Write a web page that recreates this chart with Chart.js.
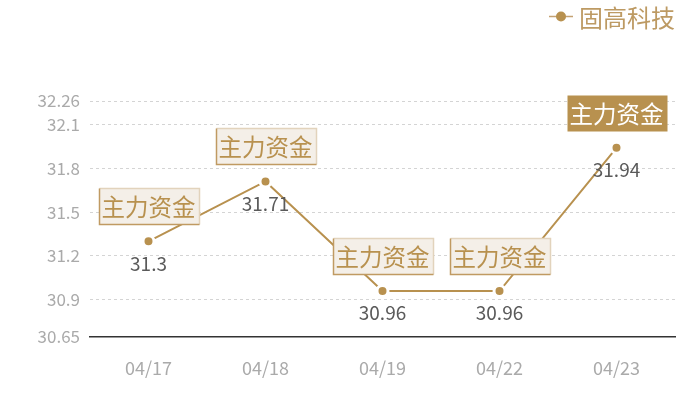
<!DOCTYPE html>
<html>
<head>
<meta charset="utf-8">
<script src="https://cdn.jsdelivr.net/npm/chart.js@4/dist/chart.umd.min.js"></script>
<style>
  html,body{margin:0;padding:0;background:#fff;}
  #wrap{width:700px;height:400px;}
</style>
</head>
<body>
<div id="wrap"><canvas id="price-chart"></canvas></div>
<script>
/* ── data ── */
var dates = ['04/17','04/18','04/19','04/22','04/23'];
var prices = [31.3, 31.71, 30.96, 30.96, 31.94];
var yTicks = [30.65, 30.9, 31.2, 31.5, 31.8, 32.1, 32.26];
var seriesName = '固高科技';
var flagText = '主力资金';
var flagActive = [false, false, false, false, true];

var GOLD = '#b8914f';
var FONT = '"Noto Sans CJK SC","Noto Sans",sans-serif';

// price labels under points + 主力资金 flags above them
var markersPlugin = {
  id:'markers',
  afterDatasetsDraw:function(chart){
    var ctx = chart.ctx;
    var meta = chart.getDatasetMeta(0);
    ctx.save();
    meta.data.forEach(function(pt, i){
      ctx.font = '19px ' + FONT;
      ctx.fillStyle = '#5a5a5a';
      ctx.textAlign = 'center';
      ctx.textBaseline = 'middle';
      ctx.fillText(String(prices[i]), pt.x, pt.y + 22);

      var w = 100, h = 36;
      var bx = Math.round(pt.x - w/2) + 0.5, by = Math.round(pt.y - 17 - h) + 0.5;
      if(flagActive[i]){
        ctx.fillStyle = GOLD;
        ctx.fillRect(bx, by, w, h);
        ctx.fillStyle = '#fff';
      } else {
        ctx.fillStyle = '#f4efe8';
        ctx.fillRect(bx, by, w, h);
        ctx.lineWidth = 1.5;
        // light top / right edges
        ctx.strokeStyle = '#e2d3bc';
        ctx.beginPath();
        ctx.moveTo(bx, by); ctx.lineTo(bx + w, by); ctx.lineTo(bx + w, by + h);
        ctx.stroke();
        // darker left / bottom edges
        ctx.strokeStyle = '#c09a62';
        ctx.beginPath();
        ctx.moveTo(bx, by); ctx.lineTo(bx, by + h); ctx.lineTo(bx + w, by + h);
        ctx.stroke();
        ctx.fillStyle = GOLD;
      }
      ctx.font = '23.5px ' + FONT;
      ctx.fillText(flagText, pt.x, by + h/2 + 1);
    });
    ctx.restore();
  }
};

var legendPlugin = {
  id:'topLegend',
  afterDraw:function(chart){
    var ctx = chart.ctx;
    ctx.save();
    ctx.strokeStyle = '#c4a273';
    ctx.lineWidth = 1.5;
    ctx.beginPath();
    ctx.moveTo(549, 16.5);
    ctx.lineTo(573, 16.5);
    ctx.stroke();
    ctx.fillStyle = GOLD;
    ctx.beginPath();
    ctx.arc(561, 16.5, 5, 0, Math.PI*2);
    ctx.fill();
    ctx.font = '24px ' + FONT;
    ctx.fillStyle = '#bd9a63';
    ctx.textAlign = 'left';
    ctx.textBaseline = 'middle';
    ctx.fillText(seriesName, 579, 18);
    ctx.restore();
  }
};

new Chart(document.getElementById('price-chart'), {
  type:'line',
  data:{
    labels:dates,
    datasets:[{
      label:seriesName,
      data:prices,
      borderColor:GOLD,
      borderWidth:2,
      tension:0,
      pointRadius:5.5,
      pointBackgroundColor:GOLD,
      pointBorderColor:'#fff',
      pointBorderWidth:3,
      fill:false
    }]
  },
  options:{
    responsive:true,
    maintainAspectRatio:false,
    animation:false,
    layout:{padding:{top:101,right:25,bottom:0,left:0}},
    plugins:{legend:{display:false},tooltip:{enabled:false}},
    scales:{
      x:{
        offset:true,
        grid:{display:false,drawTicks:false},
        border:{display:true,color:'#333',width:1.5},
        ticks:{color:'#aaa',padding:21,font:{family:FONT,size:18}}
      },
      y:{
        min:30.65,
        max:32.26,
        afterBuildTicks:function(s){
          s.ticks = yTicks.map(function(v){return {value:v};});
        },
        afterFit:function(s){ s.width = 90; },
        grid:{color:'#d4d4d4',drawTicks:false},
        border:{display:false,dash:[3,3]},
        ticks:{
          color:'#aaa',
          padding:10,
          font:{family:FONT,size:17},
          callback:function(v){return String(v);}
        }
      }
    }
  },
  plugins:[markersPlugin, legendPlugin]
});
</script>
</body>
</html>
